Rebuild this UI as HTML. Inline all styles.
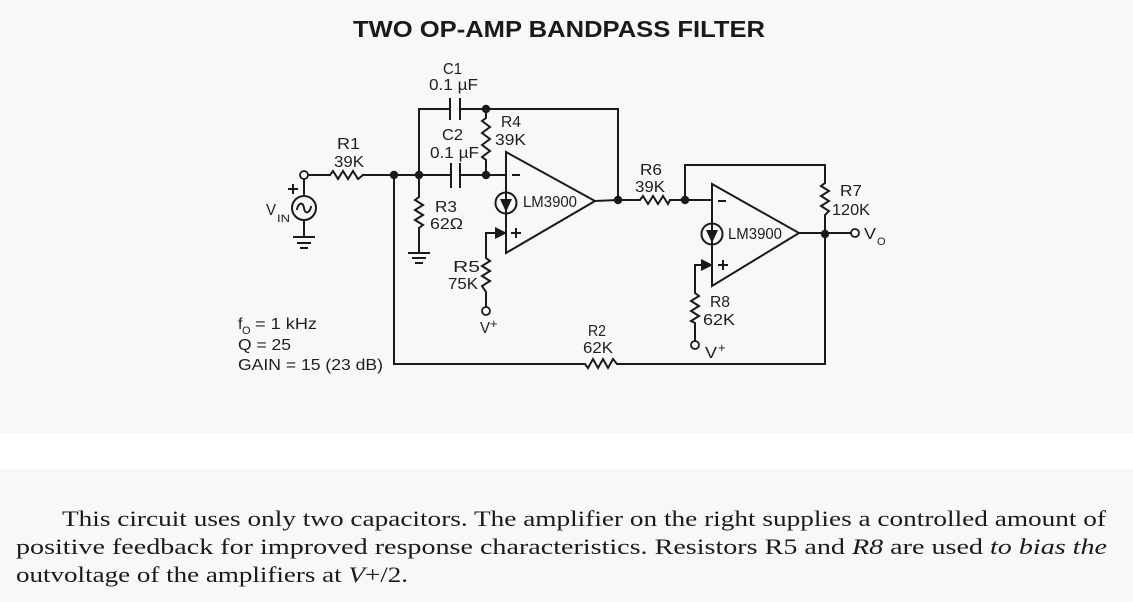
<!DOCTYPE html>
<html>
<head>
<meta charset="utf-8">
<style>
  html, body { margin:0; padding:0; background:#f8f8f8; }
  svg { display:block; }
  .l { font-family:"Liberation Sans", Arial, sans-serif; font-size:16px; fill:#1e1e1e; }
  .s { font-family:"Liberation Sans", Arial, sans-serif; font-size:11px; fill:#1e1e1e; }
  .sp { font-family:"Liberation Sans", Arial, sans-serif; font-size:13px; fill:#1e1e1e; }
  .p { font-family:"Liberation Serif", "Times New Roman", serif; font-size:22px; fill:#1a1a1a; }
</style>
</head>
<body>
<svg width="1133" height="602" viewBox="0 0 1133 602" xmlns="http://www.w3.org/2000/svg">
  <rect x="0" y="0" width="1133" height="602" fill="#f8f8f8"/>
  <rect x="0" y="433" width="1133" height="36" fill="#ffffff"/>

  <!-- Title -->
  <text x="353" y="37" font-family="Liberation Sans, Arial, sans-serif" font-size="23" font-weight="bold" fill="#1a1a1a" textLength="412" lengthAdjust="spacingAndGlyphs">TWO OP-AMP BANDPASS FILTER</text>

  <g fill="none" stroke="#1a1a1a" stroke-width="2" stroke-linejoin="miter" stroke-linecap="square">
    <!-- input -->
    <path d="M308,175 H330"/>
    <path d="M330,175 L333,171 L338,179 L343,171 L348,179 L353,171 L358,179 L363,175"/>
    <path d="M363,175 H451"/>
    <path d="M460,175 H506"/>
    <!-- C2 plates -->
    <path d="M451,164 V187 M460,164 V187"/>
    <!-- C1 -->
    <path d="M419,109 H450"/>
    <path d="M450,99 V119 M460,99 V119"/>
    <path d="M460,109 H618 V200"/>
    <path d="M419,109 V175"/>
    <!-- R4 -->
    <path d="M486,109 V118 L482,121 L490,127 L482,133 L490,139 L482,145 L490,151 L482,157 L486,160 V175"/>
    <!-- R3 + ground -->
    <path d="M419,175 V197 L415,200 L423,205 L415,210 L423,215 L415,220 L423,225 L419,228 V253"/>
    <path d="M409,253 H429 M413,258 H425 M416,263 H422"/>
    <!-- Vin source -->
    <path d="M304,179 V196"/>
    <circle cx="304" cy="208" r="12"/>
    <path d="M297,209 C299,202 303,202 304,208 C305,214 309,214 311,207"/>
    <path d="M304,220 V237"/>
    <path d="M294,237 H314 M298,243 H310 M301,248 H307"/>
    <path d="M289,189 H297 M293,185 V193"/>
    <!-- bottom feedback with R2 -->
    <path d="M394,175 V364 H585 L588,368 L593,359 L598,368 L603,359 L608,368 L613,359 L617,364 H825 V234"/>
    <!-- op-amp 1 -->
    <path d="M506,152 L506,253 L595,201 Z"/>
    <path d="M595,201 L618,200 H640 L643,196 L648,204 L653,196 L658,204 L663,196 L668,204 L670,200 H712"/>
    <!-- op-amp 2 loop + R7 -->
    <path d="M685,200 V165 H825 V183 L821,186 L829,191 L821,196 L829,201 L821,206 L829,211 L825,215 V234"/>
    <path d="M712,184 L712,286 L799,233 Z"/>
    <path d="M799,233 H851"/>
    <!-- plus input 1 / R5 -->
    <path d="M486,233 H497"/>
    <path d="M486,233 V258 L490,261 L482,266 L490,271 L482,276 L490,281 L482,286 L486,292 V307"/>
    <!-- plus input 2 / R8 -->
    <path d="M695,265 H703"/>
    <path d="M695,265 V293 L699,296 L691,301 L699,306 L691,311 L699,316 L691,321 L695,323 V341"/>
    <!-- minus / plus signs -->
    <path d="M513,175 H519"/>
    <path d="M512,233 H520 M516,229 V237"/>
    <path d="M719,201 H725"/>
    <path d="M719,265 H727 M723,261 V269"/>
  </g>

  <!-- current source circles -->
  <g stroke="#1a1a1a" stroke-width="2">
    <circle cx="506" cy="203" r="10.5" fill="#f8f8f8"/>
    <line x1="506" y1="192" x2="506" y2="214"/>
    <circle cx="712" cy="234" r="10.5" fill="#f8f8f8"/>
    <line x1="712" y1="223" x2="712" y2="245"/>
  </g>
  <g fill="#1a1a1a">
    <polygon points="500,199 512,199 506,212"/>
    <polygon points="706,230 718,230 712,243"/>
    <!-- input arrowheads -->
    <polygon points="495,227 507,233 495,239"/>
    <polygon points="701,259 713,265 701,271"/>
    <!-- junction dots -->
    <circle cx="394" cy="175" r="4.2"/>
    <circle cx="419" cy="175" r="4.2"/>
    <circle cx="486" cy="109" r="4.2"/>
    <circle cx="486" cy="175" r="4.2"/>
    <circle cx="618" cy="200" r="4.2"/>
    <circle cx="685" cy="200" r="4.2"/>
    <circle cx="825" cy="234" r="4.2"/>
  </g>

  <!-- terminals -->
  <g fill="#f8f8f8" stroke="#1a1a1a" stroke-width="1.8">
    <circle cx="304" cy="175" r="4"/>
    <circle cx="486" cy="311" r="4"/>
    <circle cx="695" cy="345" r="4"/>
    <circle cx="855" cy="233" r="4"/>
  </g>

  <!-- labels -->
  <text class="l" x="443" y="74" textLength="19" lengthAdjust="spacingAndGlyphs">C1</text>
  <text class="l" x="429" y="90" textLength="49" lengthAdjust="spacingAndGlyphs">0.1 µF</text>
  <text class="l" x="442" y="140" textLength="21" lengthAdjust="spacingAndGlyphs">C2</text>
  <text class="l" x="430" y="158" textLength="49" lengthAdjust="spacingAndGlyphs">0.1 µF</text>
  <text class="l" x="501" y="127" textLength="20" lengthAdjust="spacingAndGlyphs">R4</text>
  <text class="l" x="495" y="145" textLength="31" lengthAdjust="spacingAndGlyphs">39K</text>
  <text class="l" x="337" y="149" textLength="23" lengthAdjust="spacingAndGlyphs">R1</text>
  <text class="l" x="334" y="167" textLength="30" lengthAdjust="spacingAndGlyphs">39K</text>
  <text class="l" x="435" y="212" textLength="22" lengthAdjust="spacingAndGlyphs">R3</text>
  <text class="l" x="430" y="229" textLength="33" lengthAdjust="spacingAndGlyphs">62Ω</text>
  <text class="l" x="523" y="207" textLength="54" lengthAdjust="spacingAndGlyphs">LM3900</text>
  <text class="l" x="453" y="272" textLength="27" lengthAdjust="spacingAndGlyphs">R5</text>
  <text class="l" x="448" y="289" textLength="30" lengthAdjust="spacingAndGlyphs">75K</text>
  <text class="l" x="480" y="333" textLength="10" lengthAdjust="spacingAndGlyphs">V</text>
  <text class="sp" x="490" y="328">+</text>
  <text class="l" x="640" y="175" textLength="22" lengthAdjust="spacingAndGlyphs">R6</text>
  <text class="l" x="635" y="192" textLength="30" lengthAdjust="spacingAndGlyphs">39K</text>
  <text class="l" x="728" y="239" textLength="54" lengthAdjust="spacingAndGlyphs">LM3900</text>
  <text class="l" x="840" y="196" textLength="22" lengthAdjust="spacingAndGlyphs">R7</text>
  <text class="l" x="832" y="215" textLength="38" lengthAdjust="spacingAndGlyphs">120K</text>
  <text class="l" x="864" y="239" textLength="12" lengthAdjust="spacingAndGlyphs">V</text>
  <text class="s" x="877" y="245">O</text>
  <text class="l" x="710" y="307" textLength="20" lengthAdjust="spacingAndGlyphs">R8</text>
  <text class="l" x="703" y="325" textLength="32" lengthAdjust="spacingAndGlyphs">62K</text>
  <text class="l" x="705" y="358" textLength="12" lengthAdjust="spacingAndGlyphs">V</text>
  <text class="sp" x="718" y="352">+</text>
  <text class="l" x="588" y="336" textLength="18" lengthAdjust="spacingAndGlyphs">R2</text>
  <text class="l" x="583" y="353" textLength="30" lengthAdjust="spacingAndGlyphs">62K</text>
  <text class="l" x="266" y="215" textLength="10" lengthAdjust="spacingAndGlyphs">V</text>
  <text class="s" x="277" y="222" textLength="13" lengthAdjust="spacingAndGlyphs">IN</text>

  <!-- specs -->
  <text class="l" x="238" y="329">f</text>
  <text class="s" x="242" y="334">O</text>
  <text class="l" x="255" y="329" textLength="62" lengthAdjust="spacingAndGlyphs">= 1 kHz</text>
  <text class="l" x="238" y="350" textLength="53" lengthAdjust="spacingAndGlyphs">Q = 25</text>
  <text class="l" x="238" y="370" textLength="145" lengthAdjust="spacingAndGlyphs">GAIN = 15 (23 dB)</text>

  <!-- paragraph -->
  <text class="p" x="62" y="526" textLength="1044" lengthAdjust="spacingAndGlyphs">This circuit uses only two capacitors. The amplifier on the right supplies a controlled amount of</text>
  <text class="p" x="16" y="554" textLength="1091" lengthAdjust="spacingAndGlyphs">positive feedback for improved response characteristics. Resistors R5 and <tspan font-style="italic">R8</tspan> are used <tspan font-style="italic">to bias the</tspan></text>
  <text class="p" x="16" y="582" textLength="392" lengthAdjust="spacingAndGlyphs">outvoltage of the amplifiers at <tspan font-style="italic">V</tspan>+/2.</text>
</svg>
</body>
</html>
